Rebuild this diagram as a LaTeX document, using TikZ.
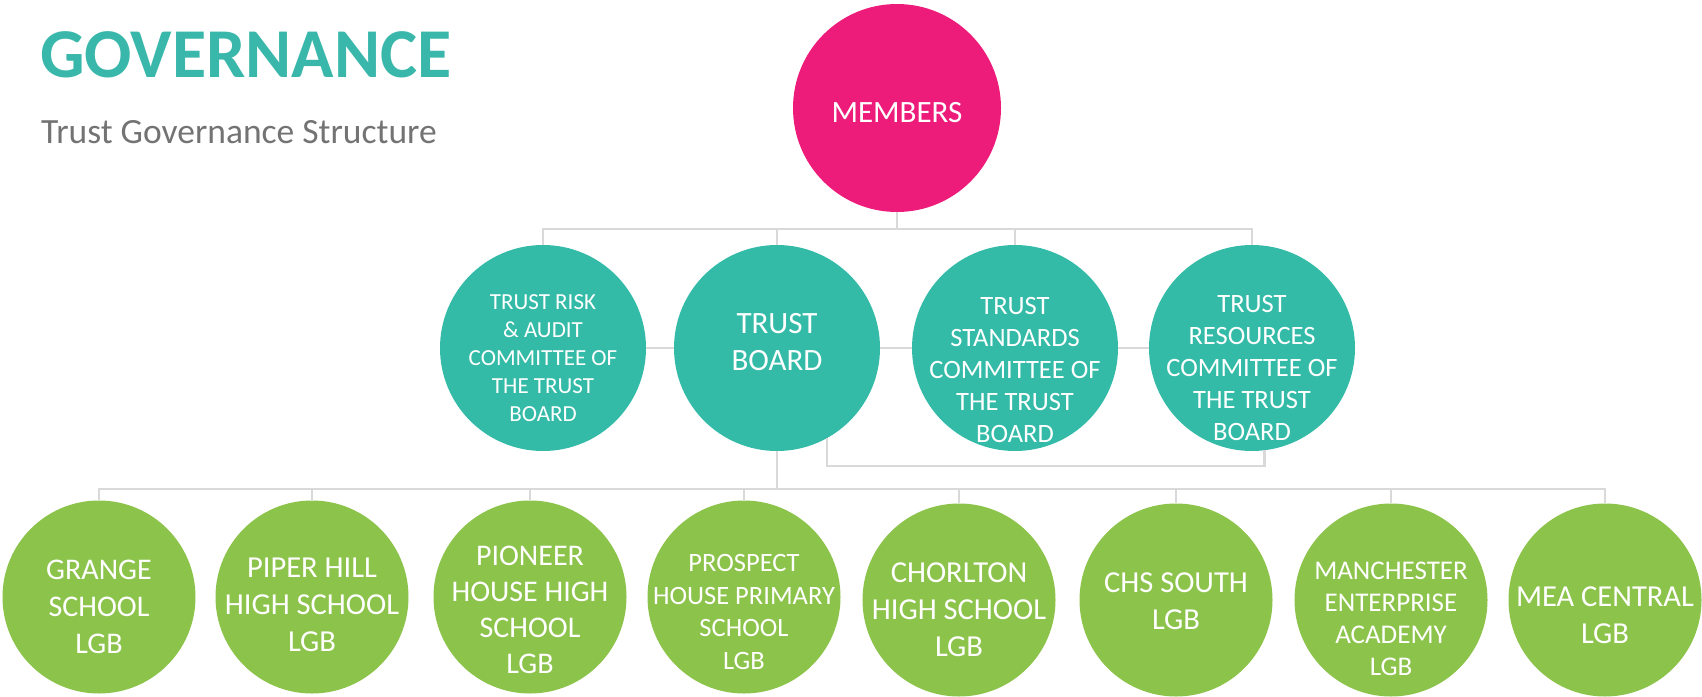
\documentclass[tikz,border=0pt]{standalone}
\usepackage{fontspec}
\setmainfont{Carlito}
\definecolor{pinkc}{HTML}{ED1C7B}
\definecolor{tealc}{HTML}{33BBA8}
\definecolor{greenc}{HTML}{8CC34B}
\definecolor{titlec}{HTML}{3AB7AB}
\definecolor{subc}{HTML}{737373}
\definecolor{linegray}{HTML}{D9D9D9}
\newcommand\fsz[2]{\fontsize{#1}{#2}\selectfont}
\tikzset{
  ball/.style={circle, inner sep=0pt, minimum size=#1, draw=none},
  pinkball/.style={ball=#1, fill=pinkc},
  tealball/.style={ball=#1, fill=tealc},
  greenball/.style={ball=#1, fill=greenc},
  intext/.style={text=white, align=center, inner sep=0pt},
  conn/.style={draw=linegray, line width=2.5pt}
}
\begin{document}
\begin{tikzpicture}[x=1pt,y=-1pt]
\useasboundingbox (0,0) rectangle (1702,696);

% titles
\node[anchor=base west, inner sep=0pt, text=titlec, font=\fsz{70}{80}\bfseries] (title) at (40,77) {GOVERNANCE};
\node[anchor=base west, inner sep=0pt, text=subc, font=\fsz{35.5}{42}] (subtitle) at (41,143) {Trust Governance Structure};

% top
\node[pinkball=208, label={[intext, font=\fsz{31}{37}, yshift=-5pt]center:MEMBERS}] (mem) at (897,108) {};

% middle row
\node[tealball=206, label={[intext, font=\fsz{23}{28}, yshift=-10pt]center:{TRUST RISK\\\& AUDIT\\COMMITTEE OF\\THE TRUST\\BOARD}}] (risk) at (543,348) {};
\node[tealball=206, label={[intext, font=\fsz{31}{37}, yshift=6pt]center:{TRUST\\BOARD}}] (board) at (777,348) {};
\node[tealball=206, label={[intext, font=\fsz{26.5}{32}, yshift=-22pt]center:{TRUST\\STANDARDS\\COMMITTEE OF\\THE TRUST\\BOARD}}] (std) at (1015,348) {};
\node[tealball=206, label={[intext, font=\fsz{26.5}{32}, yshift=-20pt]center:{TRUST\\RESOURCES\\COMMITTEE OF\\THE TRUST\\BOARD}}] (res) at (1252,348) {};

% bottom row
\node[greenball=193, label={[intext, font=\fsz{30}{37}, yshift=-10pt]center:{GRANGE\\SCHOOL\\LGB}}] (g1) at (99,597) {};
\node[greenball=193, label={[intext, font=\fsz{30.5}{37}, yshift=-8pt]center:{PIPER HILL\\HIGH SCHOOL\\LGB}}] (g2) at (312,597) {};
\node[greenball=193, label={[intext, font=\fsz{30}{36}, yshift=-13pt]center:{PIONEER\\HOUSE HIGH\\SCHOOL\\LGB}}] (g3) at (530,597) {};
\node[greenball=193, label={[intext, font=\fsz{26.5}{32.5}, yshift=-15pt]center:{PROSPECT\\HOUSE PRIMARY\\SCHOOL\\LGB}}] (g4) at (744,597) {};
\node[greenball=193, label={[intext, font=\fsz{30.5}{37}, yshift=-10pt]center:{CHORLTON\\HIGH SCHOOL\\LGB}}] (g5) at (959,600) {};
\node[greenball=193, label={[intext, font=\fsz{30.5}{37}, yshift=-1pt]center:{CHS SOUTH\\LGB}}] (g6) at (1176,600) {};
\node[greenball=193, label={[intext, font=\fsz{27}{32}, yshift=-19pt]center:{MANCHESTER\\ENTERPRISE\\ACADEMY\\LGB}}] (g7) at (1391,600) {};
\node[greenball=193, label={[intext, font=\fsz{30.5}{37}, yshift=-15pt]center:{MEA CENTRAL\\LGB}}] (g8) at (1605,600) {};

% connectors
\coordinate (hub1) at (897,229);
\coordinate (lowbar) at (1000,466);
\coordinate (hub2) at (777,489);

\draw[conn] (mem.south) -- (hub1);
\draw[conn] (risk.north) |- (hub1) -| (res.north);
\draw[conn] (board.north) -- (board.north |- hub1);
\draw[conn] (std.north) -- (std.north |- hub1);
\draw[conn] (risk.east) -- (board.west);
\draw[conn] (board.east) -- (std.west);
\draw[conn] (std.east) -- (res.west);
\draw[conn] (board.-61) -- (board.-61 |- lowbar) -| (res.-83);
\draw[conn] (board.south) -- (hub2);
\draw[conn] (g1.north) |- (hub2) -| (g8.north);
\foreach \g in {g2,g3,g4,g5,g6,g7} {
  \draw[conn] (\g.north) -- (\g.north |- hub2);
}
\end{tikzpicture}
\end{document}
